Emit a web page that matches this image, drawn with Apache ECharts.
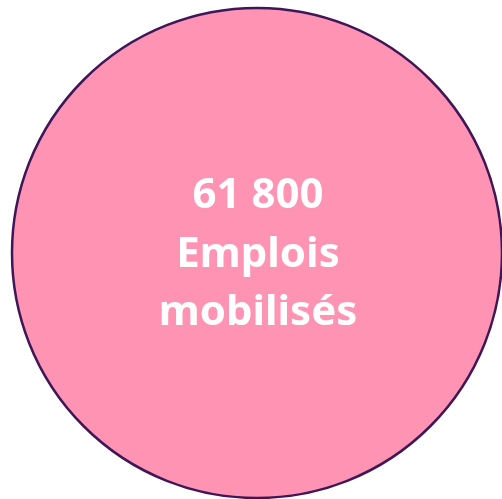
<!DOCTYPE html>
<html>
<head>
<meta charset="utf-8">
<script src="https://cdn.jsdelivr.net/npm/echarts@6/dist/echarts.min.js"></script>
<style>
  html, body { margin: 0; padding: 0; background: #fff; }
  #chart { width: 502px; height: 499px; }
</style>
</head>
<body>
<div id="chart"></div>
<script>
// une seule valeur : le cercle entier
const labels = ['Emplois mobilisés']
const values = [61800]

const fmt = v => String(v).replace(/\B(?=(\d{3})+(?!\d))/g, ' ')

const chart = echarts.init(document.getElementById('chart'))
chart.setOption({
  animation: false,
  series: [{
    type: 'pie',
    center: [257, 253],
    radius: [0, 245],
    silent: true,
    data: labels.map((name, i) => ({ name, value: values[i] })),
    itemStyle: { color: '#fe93b3', borderColor: '#3f1658', borderWidth: 2.5 },
    label: {
      show: true,
      position: 'center',
      offset: [1, 2],
      formatter: p => fmt(p.value) + '\nEmplois\nmobilisés',
      color: '#fff',
      fontFamily: 'Noto Sans',
      fontWeight: 'bold',
      fontSize: 42,
      lineHeight: 58.5,
    },
    labelLine: { show: false },
    emphasis: { disabled: true },
  }]
})
</script>
</body>
</html>
